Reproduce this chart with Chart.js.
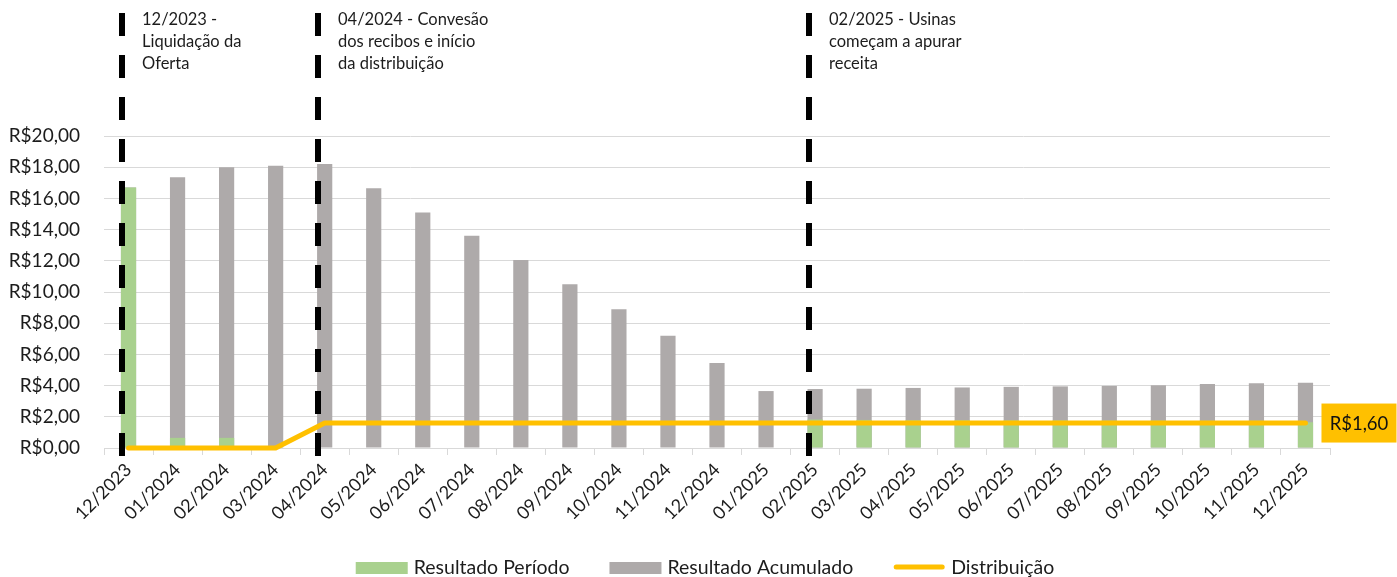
<!DOCTYPE html>
<html lang="pt-BR">
<head>
<meta charset="utf-8">
<title>Resultado e Distribuição</title>
<script src="https://cdn.jsdelivr.net/npm/chart.js@4/dist/chart.umd.min.js"></script>
<style>
  html, body { margin: 0; padding: 0; background: #ffffff; }
  #wrap { position: relative; width: 1397px; height: 577px; }
</style>
</head>
<body>
<div id="wrap"><canvas id="chart"></canvas></div>
<script>
// Meses do período
const months = [
  '12/2023', '01/2024', '02/2024', '03/2024', '04/2024', '05/2024', '06/2024',
  '07/2024', '08/2024', '09/2024', '10/2024', '11/2024', '12/2024', '01/2025',
  '02/2025', '03/2025', '04/2025', '05/2025', '06/2025', '07/2025', '08/2025',
  '09/2025', '10/2025', '11/2025', '12/2025'
];

// Resultado do período (R$ por recibo)
const resultadoPeriodo = [
  16.70, 0.65, 0.65, 0.00, 0.00, 0.00, 0.00,
  0.00, 0.00, 0.00, -0.18, -0.18, -0.18, -0.18,
  1.83, 1.80, 1.78, 1.78, 1.77, 1.77, 1.76,
  1.76, 1.75, 1.75, 1.65
];

// Resultado acumulado (R$ por recibo)
const resultadoAcumulado = [
  16.70, 17.35, 18.00, 18.10, 18.20, 16.65, 15.10,
  13.60, 12.05, 10.50, 8.90, 7.20, 5.45, 3.65,
  3.78, 3.80, 3.85, 3.88, 3.92, 3.95, 3.98,
  4.02, 4.10, 4.15, 4.19
];

// Distribuição mensal (R$ por recibo)
const distribuicao = [
  0.00, 0.00, 0.00, 0.00, 1.60, 1.60, 1.60,
  1.60, 1.60, 1.60, 1.60, 1.60, 1.60, 1.60,
  1.60, 1.60, 1.60, 1.60, 1.60, 1.60, 1.60,
  1.60, 1.60, 1.60, 1.60
];

// Eixo de valores
const yTicks = [0, 2, 4, 6, 8, 10, 12, 14, 16, 18, 20];

// Marcos do cronograma
const marcos = [
  { mes: '12/2023', texto: ['12/2023 -', 'Liquidação da', 'Oferta'] },
  { mes: '04/2024', texto: ['04/2024 - Convesão', 'dos recibos e início', 'da distribuição'] },
  { mes: '02/2025', texto: ['02/2025 - Usinas', 'começam a apurar', 'receita'] }
];

const FONT = 'Lato, "Open Sans", "DejaVu Sans", sans-serif';
const TEXT = '#1c1c1c';
const GRID = '#d9d9d9';
const COR_PERIODO = '#a9d18e';
const COR_ACUMULADO = '#aeaaaa';
const COR_DISTRIB = '#ffc000';

const brl = v => 'R$' + v.toFixed(2).replace('.', ',');

// Linhas tracejadas dos marcos e seus textos
const marcosPlugin = {
  id: 'marcos',
  afterDatasetsDraw(chart) {
    const { ctx, chartArea, scales } = chart;
    const x = scales.x;
    const step = x.getPixelForValue(1) - x.getPixelForValue(0);
    ctx.save();
    marcos.forEach(m => {
      const idx = months.indexOf(m.mes);
      const px = Math.round(x.getPixelForValue(idx) - step * 0.13);
      ctx.beginPath();
      ctx.setLineDash([23, 19]);
      ctx.lineWidth = 6;
      ctx.strokeStyle = '#000000';
      ctx.moveTo(px, chartArea.top - 123);
      ctx.lineTo(px, chartArea.bottom + 18);
      ctx.stroke();
      ctx.setLineDash([]);
      ctx.fillStyle = TEXT;
      ctx.font = '16.5px ' + FONT;
      ctx.textAlign = 'left';
      ctx.textBaseline = 'middle';
      m.texto.forEach((t, i) => {
        ctx.fillText(t, px + 20, chartArea.top - 116 + i * 22);
      });
    });
    ctx.restore();
  },
  afterDraw(chart) {
    const { ctx, chartArea } = chart;

    // Rótulo do último valor de distribuição
    const meta = chart.getDatasetMeta(0);
    const last = distribuicao.length - 1;
    const pt = meta.data[last];
    const label = brl(distribuicao[last]);
    ctx.save();
    ctx.font = '18.5px ' + FONT;
    const w = 75, h = 39;
    const bx = pt.x + 16, by = pt.y - h / 2;
    ctx.fillStyle = COR_DISTRIB;
    ctx.fillRect(bx, by, w, h);
    ctx.fillStyle = '#111111';
    ctx.textAlign = 'center';
    ctx.textBaseline = 'middle';
    ctx.fillText(label, bx + w / 2, pt.y + 1);

    // Legenda
    ctx.font = '19.5px ' + FONT;
    ctx.textBaseline = 'middle';
    ctx.textAlign = 'left';
    const items = [
      { ds: 1, kind: 'box' },
      { ds: 2, kind: 'box' },
      { ds: 0, kind: 'line' }
    ];
    const symW = 52, gapText = 6, gapItem = 40;
    const widths = items.map(it => symW + gapText + ctx.measureText(chart.data.datasets[it.ds].label).width);
    const total = widths.reduce((a, b) => a + b, 0) + gapItem * (items.length - 1);
    let lx = (chartArea.left + chartArea.right) / 2 - total / 2 - 12;
    const cy = chart.height - 9;
    items.forEach((it, i) => {
      const ds = chart.data.datasets[it.ds];
      if (it.kind === 'box') {
        ctx.fillStyle = ds.backgroundColor;
        ctx.fillRect(lx, cy - 6, symW, 12);
      } else {
        ctx.beginPath();
        ctx.strokeStyle = ds.borderColor;
        ctx.lineWidth = 5;
        ctx.lineCap = 'round';
        ctx.moveTo(lx + 3, cy - 1);
        ctx.lineTo(lx + symW - 3, cy - 1);
        ctx.stroke();
      }
      ctx.fillStyle = TEXT;
      ctx.fillText(ds.label, lx + symW + gapText, cy);
      lx += widths[i] + gapItem;
    });
    ctx.restore();
  }
};

new Chart(document.getElementById('chart'), {
  data: {
    labels: months,
    datasets: [
      {
        type: 'line',
        label: 'Distribuição',
        data: distribuicao,
        borderColor: COR_DISTRIB,
        backgroundColor: COR_DISTRIB,
        borderWidth: 5,
        borderCapStyle: 'round',
        borderJoinStyle: 'round',
        pointRadius: 0,
        pointHoverRadius: 0,
        tension: 0,
        order: 0,
        clip: false
      },
      {
        type: 'bar',
        label: 'Resultado Período',
        data: resultadoPeriodo,
        backgroundColor: COR_PERIODO,
        grouped: false,
        barPercentage: 0.31,
        categoryPercentage: 1,
        order: 1
      },
      {
        type: 'bar',
        label: 'Resultado Acumulado',
        data: resultadoAcumulado,
        backgroundColor: COR_ACUMULADO,
        grouped: false,
        barPercentage: 0.31,
        categoryPercentage: 1,
        order: 2
      }
    ]
  },
  options: {
    responsive: true,
    maintainAspectRatio: false,
    animation: false,
    events: [],
    layout: { padding: { top: 136, right: 67, bottom: 58, left: 0 } },
    plugins: {
      tooltip: { enabled: false },
      legend: { display: false }
    },
    scales: {
      x: {
        offset: true,
        grid: {
          offset: true,
          drawOnChartArea: false,
          drawTicks: true,
          tickLength: 7,
          color: GRID
        },
        border: { display: true, color: GRID, width: 1 },
        ticks: {
          font: { family: FONT, size: 18 },
          color: TEXT,
          minRotation: 45,
          maxRotation: 45,
          autoSkip: false,
          padding: 4
        },
        afterFit(scale) { scale.height = 71; }
      },
      y: {
        min: 0,
        max: 20,
        afterBuildTicks(scale) { scale.ticks = yTicks.map(v => ({ value: v })); },
        grid: { color: GRID, lineWidth: 1, drawTicks: false },
        border: { display: false },
        ticks: {
          font: { family: FONT, size: 19 },
          color: TEXT,
          padding: 24,
          callback: v => brl(v)
        },
        afterFit(scale) { scale.width = 104; }
      }
    }
  },
  plugins: [marcosPlugin]
});
</script>
</body>
</html>
